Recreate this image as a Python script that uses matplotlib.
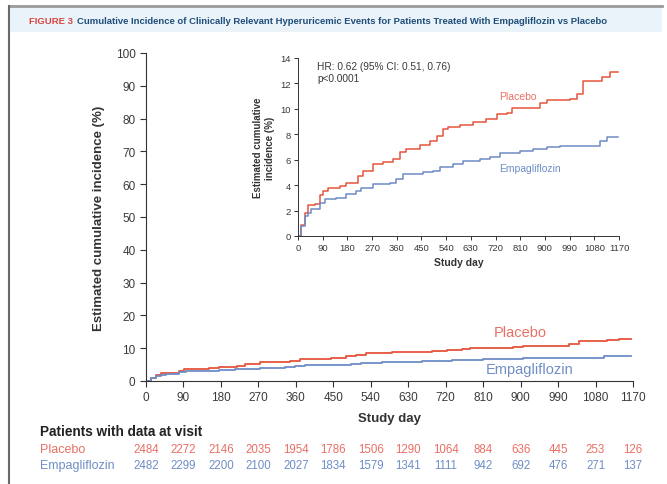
import numpy as np
import matplotlib
matplotlib.use("Agg")
import matplotlib.pyplot as plt
from matplotlib.patches import Rectangle
from matplotlib.lines import Line2D

plt.rcParams['font.family'] = ['Liberation Sans', 'DejaVu Sans']

# Kaplan-Meier style cumulative incidence (%), step times in study days
placebo_days = [0, 12, 24, 36, 61, 79, 91, 109, 152, 176, 219, 237, 274, 310, 347,
                371, 395, 444, 480, 505, 529, 547, 590, 639, 687, 724, 760, 779,
                833, 882, 906, 991, 1016, 1040, 1077, 1107, 1137, 1165]
placebo_inc = [0, 0.9, 1.8, 2.4, 2.5, 3.2, 3.55, 3.8, 3.9, 4.2, 4.7, 5.1, 5.65, 5.85,
               6.05, 6.6, 6.85, 7.15, 7.5, 7.9, 8.4, 8.55, 8.7, 8.95, 9.2, 9.6, 9.7,
               10.05, 10.1, 10.5, 10.7, 10.8, 11.2, 12.2, 12.2, 12.5, 12.9, 12.9]

empa_days = [0, 12, 24, 36, 48, 79, 97, 140, 176, 213, 231, 274, 335, 359, 383, 456,
             493, 517, 566, 602, 663, 699, 736, 809, 858, 906, 955, 1089, 1101, 1125,
             1165]
empa_inc = [0, 0.8, 1.6, 1.8, 2.1, 2.6, 2.9, 3.0, 3.3, 3.55, 3.8, 4.1, 4.2, 4.45,
            4.85, 5.0, 5.1, 5.4, 5.65, 5.9, 6.05, 6.2, 6.5, 6.7, 6.85, 7.0, 7.1, 7.1,
            7.5, 7.75, 7.75]

visit_days = list(range(0, 1171, 90))
placebo_at_risk = [2484, 2272, 2146, 2035, 1954, 1786, 1506, 1290, 1064, 884, 636, 445, 253, 126]
empa_at_risk = [2482, 2299, 2200, 2100, 2027, 1834, 1579, 1341, 1111, 942, 692, 476, 271, 137]

hr_text = "HR: 0.62 (95% CI: 0.51, 0.76)\np<0.0001"
title_lead = "FIGURE 3"
title_rest = ("Cumulative Incidence of Clinically Relevant Hyperuricemic Events "
              "for Patients Treated With Empagliflozin vs Placebo")

RED = "#e5553d"
BLUE = "#6d8cc6"
RED_TXT = "#ea6f64"
BLUE_TXT = "#6f8ec6"
DARK = "#333333"
TXT = "#3a3a3a"

W, H = 667, 485
fig = plt.figure(figsize=(W / 100, H / 100), dpi=100)


def fx(px):
    return px / W


def fy(py):
    return 1 - py / H


# frame and title band
fig.add_artist(Rectangle((fx(10), fy(33)), fx(652), 25 / H,
                         transform=fig.transFigure, facecolor="#eaf3fa",
                         edgecolor="none", zorder=0))
fig.add_artist(Line2D([fx(9), fx(662)], [fy(7), fy(7)],
                      transform=fig.transFigure, color="#9a9a9a", lw=2))
fig.add_artist(Line2D([fx(9), fx(9)], [0, fy(7)],
                      transform=fig.transFigure, color="#6a6a6a", lw=1.5))
t1 = fig.text(fx(29), fy(21), title_lead + " ", color="#d9443f",
              fontsize=6.8, fontweight="bold", va="center", ha="left")
fig.canvas.draw()
bb = t1.get_window_extent()
fig.text(bb.x1 / fig.bbox.width + 0.002, fy(21), title_rest, color="#1f4e79",
         fontsize=6.8, fontweight="bold", va="center", ha="left")

# main axes
x0, x1, y0, y1 = 146, 633, 382, 54
ax = fig.add_axes([fx(x0), fy(y0), (x1 - x0) / W, (y0 - y1) / H])
ax.step(placebo_days, placebo_inc, where="post", color=RED, lw=1.3)
ax.step(empa_days, empa_inc, where="post", color=BLUE, lw=1.3)
ax.set_xlim(0, 1170)
ax.set_ylim(0, 100)
ax.set_xticks(visit_days)
ax.set_yticks(range(0, 101, 10))
for s in ("top", "right"):
    ax.spines[s].set_visible(False)
for s in ("left", "bottom"):
    ax.spines[s].set_color(DARK)
    ax.spines[s].set_linewidth(0.8)
ax.tick_params(labelsize=8.5, colors=DARK, labelcolor=TXT, length=4, width=0.8)
ax.set_ylabel("Estimated cumulative incidence (%)", fontsize=9.5,
              fontweight="bold", color=DARK, labelpad=8)
ax.set_xlabel("Study day", fontsize=9.5, fontweight="bold", color=DARK, labelpad=6)
ax.text(900, 14.9, "Placebo", color=RED_TXT, fontsize=10.5, ha="center", va="center")
ax.text(922, 3.6, "Empagliflozin", color=BLUE_TXT, fontsize=10.5, ha="center", va="center")

# number-at-risk table
fig.text(fx(40), fy(432), "Patients with data at visit", fontsize=9.8,
         fontweight="bold", color="#222222", va="center")
fig.text(fx(40), fy(450), "Placebo", fontsize=9, color=RED_TXT, va="center")
fig.text(fx(40), fy(466), "Empagliflozin", fontsize=9, color=BLUE_TXT, va="center")
row1 = -(450 - y0) / (y0 - y1)
row2 = -(466 - y0) / (y0 - y1)
for xp, n1, n2 in zip(visit_days, placebo_at_risk, empa_at_risk):
    ax.text(xp, row1, str(n1), transform=ax.get_xaxis_transform(), fontsize=8.3,
            color=RED_TXT, ha="center", va="center")
    ax.text(xp, row2, str(n2), transform=ax.get_xaxis_transform(), fontsize=8.3,
            color=BLUE_TXT, ha="center", va="center")

# inset zoom
ins = fig.add_axes([fx(298), fy(237), 321 / W, 178 / H])
ins.step(placebo_days, placebo_inc, where="post", color=RED, lw=1.1)
ins.step(empa_days, empa_inc, where="post", color=BLUE, lw=1.1)
ins.set_xlim(0, 1170)
ins.set_ylim(0, 14)
ins.set_xticks(visit_days)
ins.set_yticks(range(0, 15, 2))
for s in ("top", "right"):
    ins.spines[s].set_visible(False)
for s in ("left", "bottom"):
    ins.spines[s].set_color(DARK)
    ins.spines[s].set_linewidth(0.7)
ins.tick_params(labelsize=6.8, colors=DARK, labelcolor=TXT, length=3, width=0.7, pad=2)
ins.set_ylabel("Estimated cumulative\nincidence (%)", fontsize=7, fontweight="bold",
               color=DARK, labelpad=4)
ins.set_xlabel("Study day", fontsize=7.5, fontweight="bold", color=DARK, labelpad=4)
ins.text(69, 13.8, hr_text, fontsize=7.3, color=TXT, va="top", ha="left", linespacing=1.25)
ins.text(802, 11.0, "Placebo", color=RED_TXT, fontsize=7.5, ha="center", va="center")
ins.text(845, 5.35, "Empagliflozin", color=BLUE_TXT, fontsize=7.5, ha="center", va="center")

fig.savefig("out.png", dpi=100)
